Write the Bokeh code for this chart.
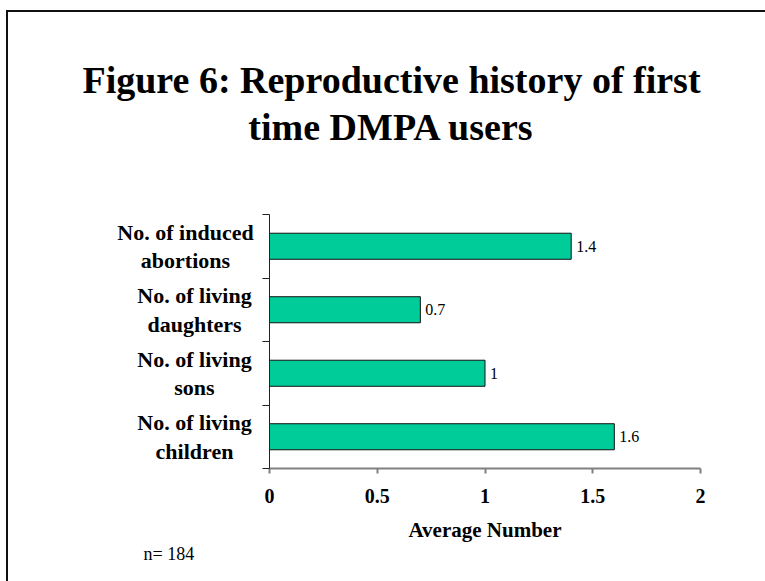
from bokeh.plotting import figure
from bokeh.models import (Range1d, FixedTicker, Label, LabelSet, ColumnDataSource,
                          InlineStyleSheet)
from bokeh.embed import file_html
from bokeh.resources import INLINE

# Average reproductive history of first-time DMPA users (bottom to top)
categories = ["No. of living\nchildren", "No. of living\nsons",
              "No. of living\ndaughters", "No. of induced\nabortions"]
averages = [1.6, 1.0, 0.7, 1.4]
value_text = ["1.6", "1", "0.7", "1.4"]
x_ticks = [0, 0.5, 1, 1.5, 2]
x_tick_labels = ["0", "0.5", "1", "1.5", "2"]
sample_note = "n= 184"

SERIF = "Liberation Serif"
W, H = 765, 581
# plotting area of the chart, in canvas pixels
AX_L, AX_R, AX_T, AX_B = 269, 700, 214, 468
X_MAX = 2.0
N = len(categories)
PX_X = (AX_R - AX_L) / X_MAX
PX_Y = (AX_B - AX_T) / N

positions = [i + 0.5 for i in range(N)]
source = ColumnDataSource(dict(y=positions, right=averages, text=value_text))

frame_css = InlineStyleSheet(css="""
:host::after {
  content: ""; position: absolute; left: 6px; top: 10px; right: 0; bottom: 0;
  border-left: 2px solid #111; border-top: 2px solid #111; pointer-events: none;
}
""")

# the frame fills the whole canvas; axes sit at fixed data locations
p = figure(width=W, height=H, output_backend="svg", toolbar_location=None,
           x_range=Range1d(-AX_L / PX_X, (W - AX_L) / PX_X),
           y_range=Range1d(-(H - AX_B) / PX_Y, N + AX_T / PX_Y),
           min_border=0, stylesheets=[frame_css])
p.outline_line_color = None
p.grid.grid_line_color = None
p.background_fill_color = "white"
p.border_fill_color = "white"

p.hbar(y="y", right="right", left=0, height=0.41, source=source,
       fill_color="#00CC99", line_color="#111111", line_width=1)

# bottom axis
xa = p.xaxis[0]
xa.fixed_location = 0
xa.bounds = (0, X_MAX)
xa.ticker = FixedTicker(ticks=x_ticks)
xa.major_label_overrides = {t: l for t, l in zip(x_ticks, x_tick_labels)}
xa.axis_line_color = "#808080"
xa.axis_line_width = 2
xa.major_tick_line_color = "#808080"
xa.major_tick_line_width = 2
xa.major_tick_in = 0
xa.major_tick_out = 5
xa.minor_tick_line_color = None
xa.major_label_text_font = SERIF
xa.major_label_text_font_style = "bold"
xa.major_label_text_font_size = "20px"
xa.major_label_text_color = "black"
xa.major_label_standoff = 15
xa.axis_label = "Average Number"
xa.axis_label_text_font = SERIF
xa.axis_label_text_font_style = "bold"
xa.axis_label_text_font_size = "21px"
xa.axis_label_text_color = "black"
xa.axis_label_standoff = 12

# left axis: ticks at band boundaries, names drawn as centred labels
ya = p.yaxis[0]
ya.fixed_location = 0
ya.bounds = (0, N)
ya.ticker = FixedTicker(ticks=list(range(N + 1)))
ya.major_label_text_color = None
ya.major_label_text_font_size = "1px"
ya.axis_line_color = "#222222"
ya.axis_line_width = 1
ya.major_tick_line_color = "#222222"
ya.major_tick_in = 0
ya.major_tick_out = 7
ya.minor_tick_line_color = None

label_centres = [194, 194, 194, 185]
for name, yv, cx in zip(categories, positions, label_centres):
    p.add_layout(Label(x=cx, y=yv, x_units="screen", text=name,
                       text_align="center", text_baseline="middle",
                       text_font=SERIF, text_font_style="bold",
                       text_font_size="22px", text_line_height=1.14,
                       text_color="black"))

p.add_layout(LabelSet(x="right", y="y", text="text", source=source,
                      x_offset=5, text_baseline="middle", text_align="left",
                      text_font=SERIF, text_font_size="16px",
                      text_color="black"))

title_lines = ["Figure 6: Reproductive history of first", "time DMPA users"]
for line, base in zip(title_lines, [79, 126]):
    p.add_layout(Label(x=391, y=H - base, x_units="screen", y_units="screen",
                       text=line, text_align="center",
                       text_baseline="alphabetic", text_font=SERIF,
                       text_font_style="bold", text_font_size="38px",
                       text_color="black"))

p.add_layout(Label(x=143, y=H - 553, x_units="screen", y_units="screen",
                   text=sample_note, text_align="left",
                   text_baseline="alphabetic", text_font=SERIF,
                   text_font_size="18px", text_color="black"))

open("out.html", "w").write(file_html(p, INLINE))
